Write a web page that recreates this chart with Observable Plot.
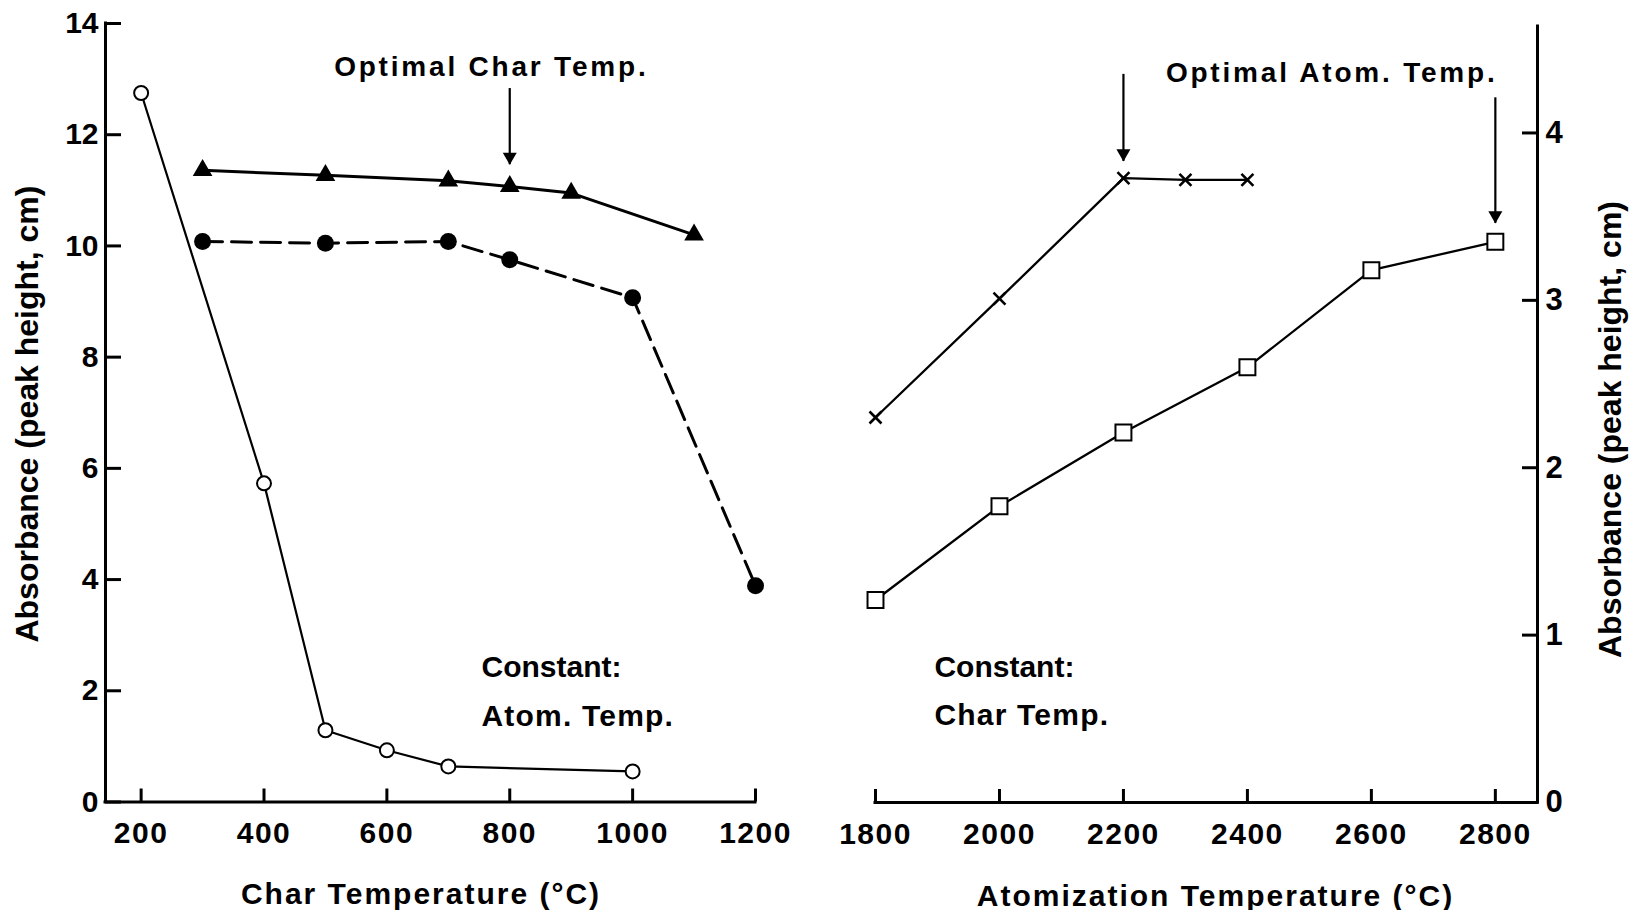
<!DOCTYPE html>
<html>
<head>
<meta charset="utf-8">
<script src="https://cdn.jsdelivr.net/npm/d3@7"></script>
<script src="https://cdn.jsdelivr.net/npm/@observablehq/plot@0.6"></script>
<style>
  body { margin: 0; background: #fff; }
  #figure { position: relative; width: 1631px; height: 910px; background: #fff; }
  #figure svg { position: absolute; top: 0; overflow: visible; }
</style>
</head>
<body>
<div id="figure"></div>
<script>
// ---- Char temperature study (left panel, left axis, absorbance 0–14) ----
const charTempOpen = [200, 400, 500, 600, 700, 1000];
const absOpen = [12.75, 5.73, 1.29, 0.93, 0.64, 0.55];

const charTempTriangle = [300, 500, 700, 800, 900, 1100];
const absTriangle = [11.36, 11.27, 11.17, 11.07, 10.95, 10.2];

const charTempFilled = [300, 500, 700, 800, 1000, 1200];
const absFilled = [10.08, 10.05, 10.08, 9.75, 9.07, 3.89];

// ---- Atomization temperature study (right panel, right axis, absorbance 0–4) ----
const atomTempCross = [1800, 2000, 2200, 2300, 2400];
const absCross = [2.30, 3.01, 3.73, 3.72, 3.72];

const atomTempSquare = [1800, 2000, 2200, 2400, 2600, 2800];
const absSquare = [1.21, 1.77, 2.21, 2.60, 3.18, 3.35];

// ---- Axes ----
const charTicks = [200, 400, 600, 800, 1000, 1200];
const atomTicks = [1800, 2000, 2200, 2400, 2600, 2800];
const leftAbsTicks = [0, 2, 4, 6, 8, 10, 12, 14];
const rightAbsTicks = [0, 1, 2, 3, 4];
const charDomain = [142, 1200];
const atomDomain = [1800, 2868];
const leftAbsDomain = [0, 14];
const rightAbsDomain = [0, 4.636];
const plain = d => String(d);

// ---- Labels ----
const charTitle = "Char Temperature (°C)";
const atomTitle = "Atomization Temperature (°C)";
const absTitle = "Absorbance (peak height, cm)";
const charOptimum = {label: "Optimal Char Temp.", x: 770, y: 13.22, arrowX: 800, arrowTop: 12.83, arrowTip: 11.46};
const atomOptimum = {label: "Optimal Atom. Temp.", x: 2536, y: 4.36};
const atomArrows = [
  {x: 2200, top: 4.35, tip: 3.83},
  {x: 2800, top: 4.21, tip: 3.46}
];
const leftNote = [{text: "Constant:", x: 754, y: 2.416}, {text: "Atom. Temp.", x: 754, y: 1.548}];
const rightNote = [{text: "Constant:", x: 1895, y: 0.805}, {text: "Char Temp.", x: 1895, y: 0.523}];

const zip = (xs, ys) => xs.map((x, i) => ({x, y: ys[i]}));
const openData = zip(charTempOpen, absOpen);
const triangleData = zip(charTempTriangle, absTriangle);
const filledData = zip(charTempFilled, absFilled);
const crossData = zip(atomTempCross, absCross);
const squareData = zip(atomTempSquare, absSquare);

const FONT = "'Liberation Sans', Arial, Helvetica, sans-serif";
const INK = "#000";

// ---- Left panel ----
const L = {width: 815, height: 910, top: 23, bottom: 108.5, left: 105, right: 60};
const Lfw = L.width - L.left - L.right;
const Lfh = L.height - L.top - L.bottom;

const left = Plot.plot({
  width: L.width, height: L.height,
  marginLeft: L.left, marginRight: L.right, marginTop: L.top, marginBottom: L.bottom,
  x: {domain: charDomain},
  y: {domain: leftAbsDomain},
  style: {fontFamily: FONT, background: "transparent", color: INK},
  marks: [
    // axis frame
    Plot.ruleX([charDomain[0]], {stroke: INK, strokeWidth: 3, strokeLinecap: "square"}),
    Plot.ruleY([0], {stroke: INK, strokeWidth: 3, strokeLinecap: "square"}),
    Plot.tickX(charTicks, {x: d => d, stroke: INK, strokeWidth: 3, insetTop: Lfh - 13}),
    Plot.tickY(leftAbsTicks, {y: d => d, stroke: INK, strokeWidth: 3, insetRight: Lfw - 16}),
    Plot.axisX({ticks: charTicks, tickFormat: plain, tickSize: 0, tickPadding: 20, fontSize: 30, fontWeight: "bold", label: null}),
    Plot.axisY({ticks: leftAbsTicks, tickFormat: plain, tickSize: 0, tickPadding: 7, fontSize: 30, fontWeight: "bold", label: null}),
    Plot.text([charTitle], {frameAnchor: "bottom", textAnchor: "middle", lineAnchor: "bottom", dx: -9.5, dy: 101.8, fontSize: 30, fontWeight: "bold", fill: INK}),
    Plot.text([absTitle], {frameAnchor: "left", rotate: -90, textAnchor: "middle", lineAnchor: "bottom", dx: -67.5, dy: 1.3, fontSize: 32, fontWeight: "bold", fill: INK}),

    // series
    Plot.line(openData, {x: "x", y: "y", stroke: INK, strokeWidth: 2.2}),
    Plot.line(filledData, {x: "x", y: "y", stroke: INK, strokeWidth: 3, strokeDasharray: "20,9"}),
    Plot.line(triangleData, {x: "x", y: "y", stroke: INK, strokeWidth: 3}),
    Plot.dot(openData, {x: "x", y: "y", r: 7, fill: "#fff", stroke: INK, strokeWidth: 2}),
    Plot.dot(filledData, {x: "x", y: "y", r: 8.5, fill: INK, stroke: "none"}),
    Plot.dot(triangleData, {x: "x", y: "y", symbol: "triangle", r: 7.3, fill: INK, stroke: "none"}),

    // optimum annotation
    Plot.text([charOptimum], {x: "x", y: "y", text: "label", fontSize: 28, fontWeight: "bold", fill: INK}),
    Plot.ruleX([charOptimum], {x: "arrowX", y1: "arrowTop", y2: "arrowTip", stroke: INK, strokeWidth: 2.2}),
    Plot.dot([charOptimum], {x: "arrowX", y: "arrowTip", symbol: "triangle", rotate: 180, r: 5.2, dy: -8, fill: INK, stroke: "none"}),

    // held-constant note
    Plot.text(leftNote, {x: "x", y: "y", text: "text", textAnchor: "start", fontSize: 30, fontWeight: "bold", fill: INK})
  ]
});

// ---- Right panel ----
const R = {width: 816, height: 910, top: 26, bottom: 108, left: 60, right: 94};
const Rfw = R.width - R.left - R.right;
const Rfh = R.height - R.top - R.bottom;

const right = Plot.plot({
  width: R.width, height: R.height,
  marginLeft: R.left, marginRight: R.right, marginTop: R.top, marginBottom: R.bottom,
  x: {domain: atomDomain},
  y: {domain: rightAbsDomain},
  style: {fontFamily: FONT, background: "transparent", color: INK},
  marks: [
    Plot.ruleX([atomDomain[1]], {stroke: INK, strokeWidth: 3, strokeLinecap: "square"}),
    Plot.ruleY([0], {stroke: INK, strokeWidth: 3, strokeLinecap: "square"}),
    Plot.tickX(atomTicks, {x: d => d, stroke: INK, strokeWidth: 3, insetTop: Rfh - 13}),
    Plot.tickY(rightAbsTicks, {y: d => d, stroke: INK, strokeWidth: 3, insetLeft: Rfw - 15}),
    Plot.axisX({ticks: atomTicks, tickFormat: plain, tickSize: 0, tickPadding: 20, fontSize: 30, fontWeight: "bold", label: null}),
    Plot.axisY({anchor: "right", ticks: rightAbsTicks, tickFormat: plain, tickSize: 0, tickPadding: 8, fontSize: 31, fontWeight: "bold", label: null}),
    Plot.text([atomTitle], {frameAnchor: "bottom", textAnchor: "middle", lineAnchor: "bottom", dx: 9, dy: 103, fontSize: 30, fontWeight: "bold", fill: INK}),
    Plot.text([absTitle], {frameAnchor: "right", rotate: -90, textAnchor: "middle", lineAnchor: "bottom", dx: 83, dy: 15, fontSize: 32, fontWeight: "bold", fill: INK}),

    Plot.line(crossData, {x: "x", y: "y", stroke: INK, strokeWidth: 2.3}),
    Plot.line(squareData, {x: "x", y: "y", stroke: INK, strokeWidth: 2.3}),
    Plot.dot(crossData, {x: "x", y: "y", symbol: "times", r: 5.5, stroke: INK, strokeWidth: 2.6, fill: "none"}),
    Plot.dot(squareData, {x: "x", y: "y", symbol: "square", r: 9, fill: "#fff", stroke: INK, strokeWidth: 2}),

    Plot.text([atomOptimum], {x: "x", y: "y", text: "label", fontSize: 28, fontWeight: "bold", fill: INK}),
    Plot.ruleX(atomArrows, {x: "x", y1: "top", y2: "tip", stroke: INK, strokeWidth: 2.2}),
    Plot.dot(atomArrows, {x: "x", y: "tip", symbol: "triangle", rotate: 180, r: 5.2, dy: -8, fill: INK, stroke: "none"}),

    Plot.text(rightNote, {x: "x", y: "y", text: "text", textAnchor: "start", fontSize: 30, fontWeight: "bold", fill: INK})
  ]
});

// letter spacing of the lettering
function track(svg, strings, spacing) {
  d3.select(svg).selectAll("text")
    .filter(function () { return strings.includes(this.textContent); })
    .style("letter-spacing", spacing);
}
for (const svg of [left, right]) {
  d3.select(svg).selectAll('g[aria-label="x-axis tick label"] text').style("letter-spacing", "1.5px");
  track(svg, [charOptimum.label, atomOptimum.label], "2.8px");
  track(svg, [charTitle, atomTitle], "2px");
  track(svg, ["Atom. Temp.", "Char Temp."], "1.2px");
}

left.style.left = "0px";
right.style.left = L.width + "px";
const fig = document.getElementById("figure");
fig.appendChild(left);
fig.appendChild(right);
</script>
</body>
</html>
